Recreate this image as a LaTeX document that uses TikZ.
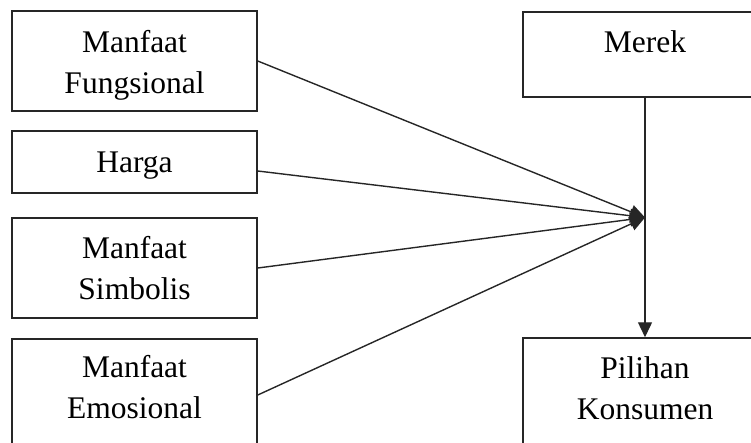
\documentclass[tikz,border=0pt]{standalone}
\usepackage{fontspec}
\setmainfont{Liberation Serif}
\usetikzlibrary{arrows.meta,positioning,calc}
\tikzset{
  block/.style={draw=black!85, line width=1.5pt, minimum width=245pt,
    minimum height=100pt, align=center, fill=white, inner sep=0pt,
    font=\fontsize{31.5}{41}\selectfont},
  arrow/.style={-{Triangle[length=15pt,width=14pt]}, line width=1.4pt, draw=black!85}
}

\begin{document}
\begin{tikzpicture}[x=1pt,y=-1pt]
  \clip (0,0) rectangle (751,442);
  \node[block] (fungsi) at (134.5,61) {\rule{0pt}{31pt}Manfaat\\Fungsional};
  \node[block, minimum height=62pt] (harga) at (134.5,162) {\rule{0pt}{27pt}Harga};
  \node[block] (simbol) at (134.5,268) {Manfaat\\Simbolis};
  \node[block, minimum height=120pt] (emosi) at (134.5,399) {Manfaat\\Emosional\rule[-24.5pt]{0pt}{0pt}};
  \node[block, minimum width=244pt, minimum height=85pt, text height=21.5pt, text depth=26.5pt] (merek) at (645,54.5) {Merek};
  \node[block, minimum width=244pt, minimum height=120pt] (pilihan) at (645,398) {Pilihan\\Konsumen\rule[-20.5pt]{0pt}{0pt}};
  \coordinate (temu) at ($(merek.south)!0.5!(pilihan.north)$);
  \draw[arrow] (merek.south) -- (pilihan.north);
  \draw[arrow] (fungsi.east) -- (temu);
  \draw[arrow] ([yshift=-9pt]harga.east) -- (temu);
  \draw[arrow] (simbol.east) -- (temu);
  \draw[arrow] ([yshift=4pt]emosi.east) -- (temu);
\end{tikzpicture}
\end{document}
